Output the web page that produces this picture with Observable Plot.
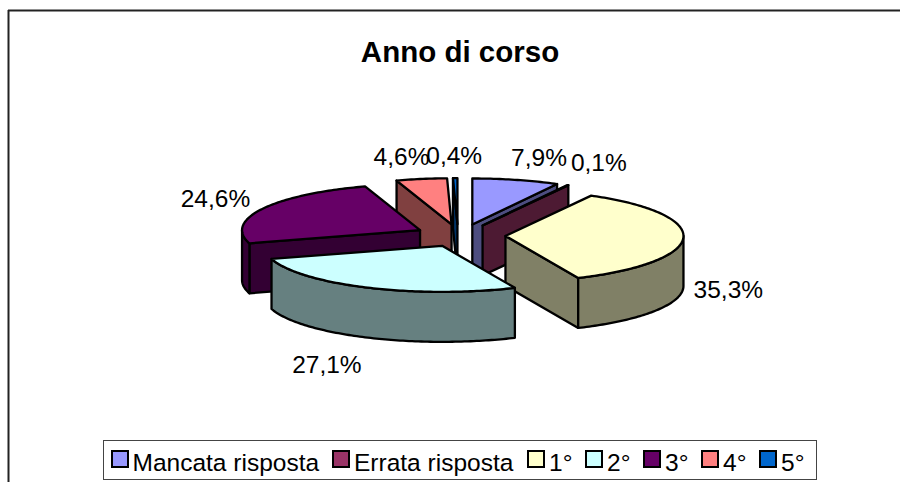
<!DOCTYPE html>
<html><head><meta charset="utf-8">
<script src="https://cdn.jsdelivr.net/npm/d3@7"></script>
<script src="https://cdn.jsdelivr.net/npm/@observablehq/plot@0.6"></script>
<style>
html,body{margin:0;padding:0;background:#fff;width:900px;height:482px;overflow:hidden}
#wrap{position:relative;width:900px;height:482px;font-family:"Liberation Sans",Arial,sans-serif}
#wrap svg{display:block;position:absolute;left:0;top:0}
#legend{position:absolute;left:103px;top:440px;width:712px;height:38px;border:1.5px solid #444;background:#fff;color:#000;font-size:24.5px;white-space:nowrap}
#legend span.item{position:absolute;top:0;display:flex;align-items:center;height:44px;line-height:44px}
#legend i{display:inline-block;box-sizing:border-box;width:18px;height:18px;border:2.5px solid #000;margin-right:4px;position:relative;top:-4px}
</style></head>
<body><div id="wrap"><div id="legend"></div></div>
<script>
const categories = ["Mancata risposta", "Errata risposta", "1°", "2°", "3°", "4°", "5°"];
const percentages = [7.9, 0.1, 35.3, 27.1, 24.6, 4.6, 0.4];
const labels = ["7,9%", "0,1%", "35,3%", "27,1%", "24,6%", "4,6%", "0,4%"];
const topColors = ["#9999FF", "#993366", "#FFFFCC", "#CCFFFF", "#660066", "#FF8080", "#0066CC"];
const wallColors = ["#4D4D80", "#4D1A33", "#808066", "#668080", "#330033", "#804040", "#003366"];
const title = "Anno di corso";

// layout of the tilted, exploded pie
const pie = {cx: 461, cy: 235, rx: 178, ry: 46, depth: 50, explode: 44};
const paintOrder = [5, 6, 4, 0, 1, 2, 3];
const sliceLean = [0, 0, 0, -1, -2.5, -2.5, -3.5];
const legendLeft = [6.5, 228, 423, 481, 539, 597, 655];
const labelNudge = [[23, -22], [31, -22], [45, 52], [-41, 78], [-47, -10], [-20, -22], [-1, -22]];

const rad = d => d * Math.PI / 180;
let cum = 0;
const slices = percentages.map((p, i) => {
  const a0 = cum * 3.6, a1 = (cum + p) * 3.6;
  cum += p;
  const mid = (a0 + a1) / 2;
  const ax = pie.cx + sliceLean[i] + pie.explode * Math.sin(rad(mid));
  const ay = pie.cy - pie.explode * Math.cos(rad(mid)) * pie.ry / pie.rx;
  const at = a => [ax + pie.rx * Math.sin(rad(a)), ay - pie.ry * Math.cos(rad(a))];
  return {i, a0, a1, mid, ax, ay, at};
});
const down = ([x, y]) => [x, y + pie.depth];
const arc = (a, b) => d3.range(0, 1.0001, 1 / Math.max(2, Math.ceil(Math.abs(b - a)))).map(t => a + (b - a) * t);

function poly(points, fill) {
  return Plot.line(points, {x: d => d[0], y: d => d[1], curve: "linear-closed", fill, stroke: "#000", strokeWidth: 2.3, strokeLinejoin: "round"});
}
const marks = [
  Plot.ruleX([8], {y1: 10, y2: 482, stroke: "#222", strokeWidth: 2}),
  Plot.ruleY([10], {x1: 8, x2: 900, stroke: "#222", strokeWidth: 2}),
  Plot.text([title], {x: () => 459.5, y: () => 52, text: d => d, fontSize: 29.5, fontWeight: "bold", fontFamily: "Liberation Sans", fill: "#000"})
];
for (const k of paintOrder) {
  const s = slices[k];
  const apex = [s.ax, s.ay], apexDown = down(apex);
  if (Math.sin(rad(s.a0)) < -1e-6) marks.push(poly([apex, s.at(s.a0), down(s.at(s.a0)), apexDown], wallColors[k]));
  if (Math.sin(rad(s.a1)) > 1e-6) marks.push(poly([apex, s.at(s.a1), down(s.at(s.a1)), apexDown], wallColors[k]));
  const lo = Math.max(s.a0, 90), hi = Math.min(s.a1, 270);
  if (hi > lo) {
    const angs = arc(lo, hi);
    marks.push(poly([...angs.map(s.at), ...angs.slice().reverse().map(a => down(s.at(a)))], wallColors[k]));
  }
  marks.push(poly([apex, ...arc(s.a0, s.a1).map(s.at)], topColors[k]));
}
slices.forEach((s, k) => {
  const [x, y] = s.at(s.mid);
  marks.push(Plot.text([labels[k]], {x: () => x, y: () => y, text: d => d, dx: labelNudge[k][0], dy: labelNudge[k][1], fontSize: 24.5, fontFamily: "Liberation Sans", fill: "#000"}));
});
const chart = Plot.plot({
  width: 900, height: 482, margin: 0,
  x: {domain: [0, 900], range: [0, 900], axis: null},
  y: {domain: [0, 482], range: [0, 482], axis: null},
  style: {background: "#fff"},
  marks
});
const wrap = document.getElementById("wrap");
wrap.insertBefore(chart, wrap.firstChild);
const legend = document.getElementById("legend");
categories.forEach((c, i) => {
  const it = document.createElement("span");
  it.className = "item";
  it.style.left = legendLeft[i] + "px";
  const sw = document.createElement("i");
  sw.style.background = topColors[i];
  it.appendChild(sw);
  it.appendChild(document.createTextNode(c));
  legend.appendChild(it);
});
</script></body></html>
